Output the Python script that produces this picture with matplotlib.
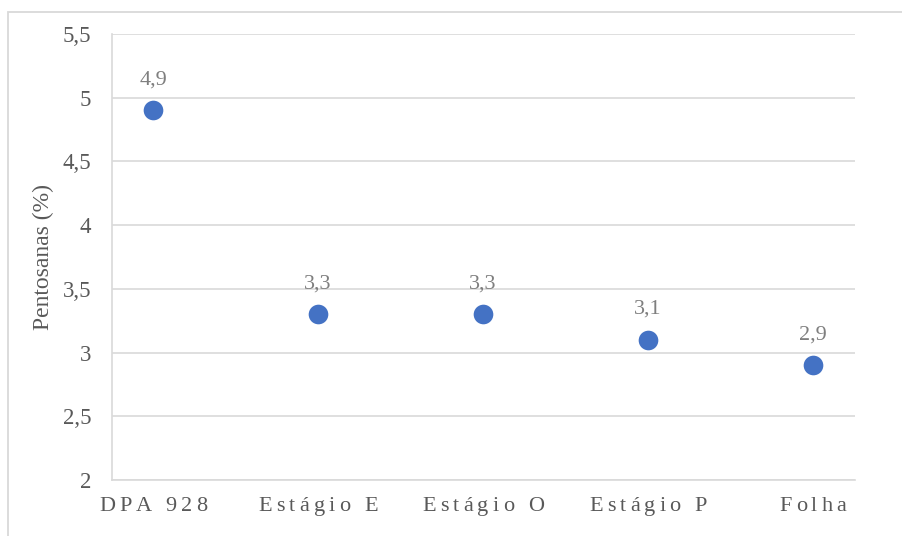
import matplotlib
matplotlib.use("Agg")
import matplotlib.pyplot as plt
from matplotlib.patches import Rectangle
from matplotlib.textpath import TextToPath
from matplotlib.font_manager import FontProperties

categories = ["DPA 928", "Estágio E", "Estágio O", "Estágio P", "Folha"]
values = [4.9, 3.3, 3.3, 3.1, 2.9]
value_labels = ["4,9", "3,3", "3,3", "3,1", "2,9"]
yticks = [2, 2.5, 3, 3.5, 4, 4.5, 5, 5.5]
ytick_labels = ["2", "2,5", "3", "3,5", "4", "4,5", "5", "5,5"]
ylabel = "Pentosanas (%)"

FONT = "Liberation Serif"
plt.rcParams['font.family'] = [FONT, 'DejaVu Serif']

fig = plt.figure(figsize=(9.03, 5.36), dpi=100)
fig.patch.set_facecolor("white")
# outer chart border
fig.patches.append(Rectangle((8/903, -0.01), 1.1, 1 - 12/536 + 0.01, transform=fig.transFigure,
                             fill=False, edgecolor="#d9d9d9", linewidth=1.3))

ax = fig.add_axes([112/903, 1 - 480/536, (855 - 112)/903, (480 - 34)/536])
x = list(range(1, len(categories) + 1))
ax.scatter(x, values, s=200, color="#4472C4", zorder=3, linewidths=0)
ax.set_xlim(0.75, 5.255)
ax.set_ylim(2, 5.5)
ax.set_yticks(yticks)
ax.set_yticklabels(ytick_labels, fontsize=16.5, color="#595959")
ax.tick_params(axis="y", length=0, pad=15)
ax.set_xticks(x)
ax.set_xticklabels([""] * len(x))
ax.tick_params(axis="x", length=0)
ax.grid(axis="y", color="#d9d9d9", linewidth=1.2)
ax.set_axisbelow(True)
for s in ["top", "right"]:
    ax.spines[s].set_visible(False)
for s in ["left", "bottom"]:
    ax.spines[s].set_color("#d9d9d9")
    ax.spines[s].set_linewidth(1.2)

ax.set_ylabel(ylabel, fontsize=17, color="#595959", labelpad=6)

for xi, v, lab in zip(x, values, value_labels):
    ax.annotate(lab, (xi, v), xytext=(0, 15), textcoords="offset points",
                ha="center", va="bottom", fontsize=16, color="#7f7f7f")

# x tick labels with letter spacing
fp = FontProperties(family=FONT, size=16)
t2p = TextToPath()
tracking = 3.0  # points
for xi, lab in zip(x, categories):
    widths = [t2p.get_text_width_height_descent(c, fp, ismath=False)[0] for c in lab]
    total = sum(widths) + tracking * (len(lab) - 1)
    pos = -total / 2
    for c, w in zip(lab, widths):
        ax.annotate(c, (xi, 2), xytext=(pos, -12), textcoords="offset points",
                    ha="left", va="top", fontsize=16, color="#595959",
                    annotation_clip=False)
        pos += w + tracking

fig.savefig("out.png", dpi=100)
